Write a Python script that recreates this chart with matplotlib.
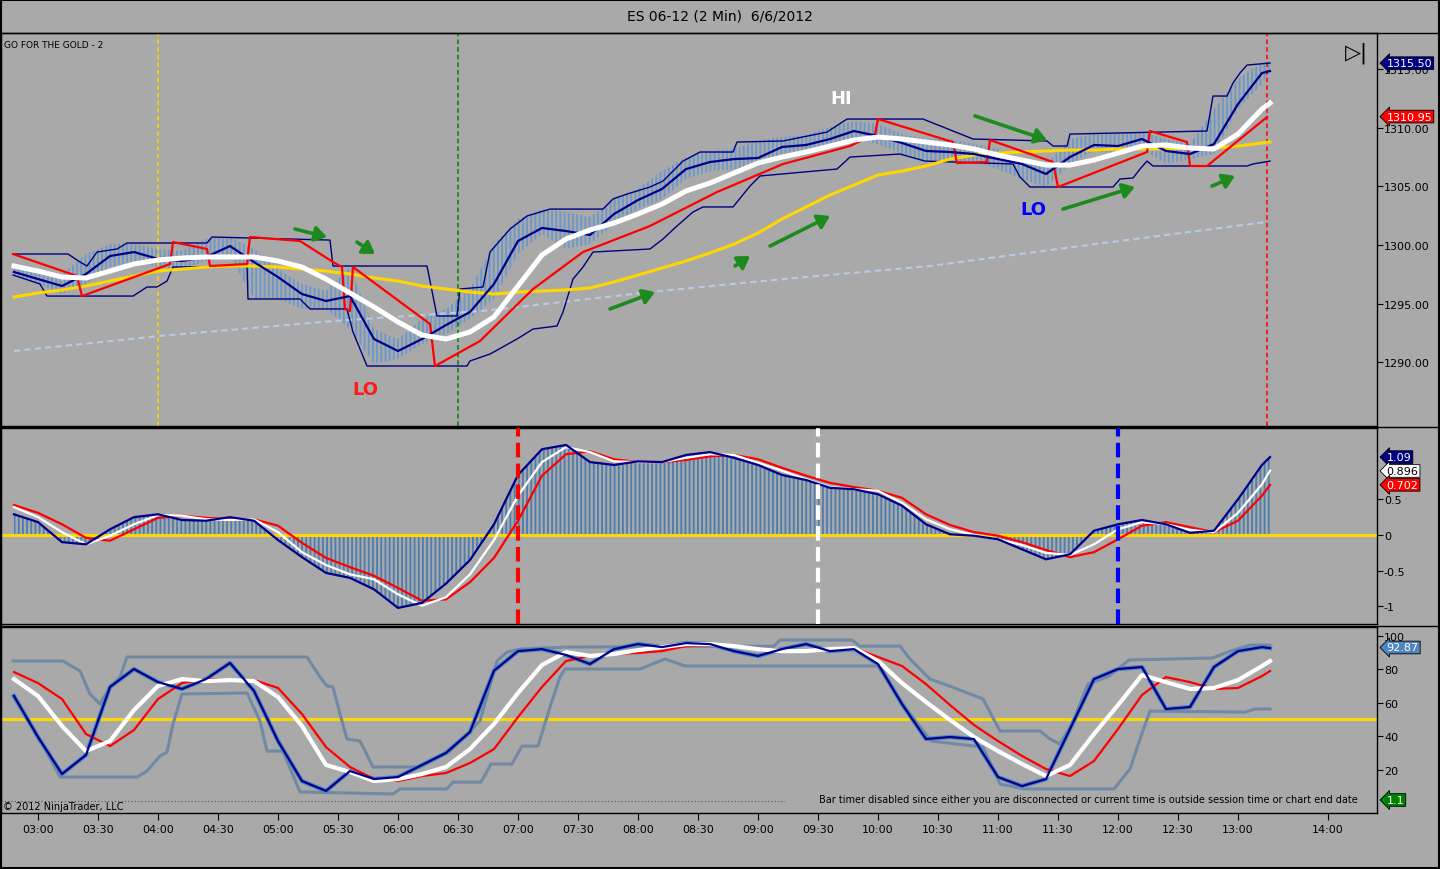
import numpy as np
import matplotlib.pyplot as plt
from matplotlib.lines import Line2D

W, H = 1440, 870
BG = '#a9a9a9'
plt.rcParams['hatch.linewidth'] = 1.3

# bar times in minutes after midnight (sampled every 12 min, last bar 13:16)
t = list(range(168, 793, 12)) + [796]

# ---- price panel ----
bar_hi = [1298.13, 1297.96, 1297.54, 1299.24, 1300.09, 1300.09, 1299.67, 1299.5, 1300.52, 1300.69,
          1299.67, 1297.96, 1296.69, 1296.09, 1298.13, 1292.85, 1292.0, 1293.71, 1294.56, 1296.26,
          1300.09, 1302.22, 1303.07, 1302.82, 1302.39, 1303.93, 1304.78, 1306.31, 1307.5, 1308.02,
          1308.19, 1308.87, 1309.21, 1309.38, 1310.06, 1310.57, 1310.32, 1309.46, 1309.04, 1309.04,
          1308.61, 1308.19, 1307.33, 1306.91, 1309.04, 1309.46, 1309.46, 1309.63, 1309.04, 1308.61,
          1311.59, 1314.15, 1315.6, 1315.68]
bar_lo = [1297.37, 1296.77, 1295.83, 1296.69, 1298.13, 1298.65, 1298.13, 1297.96, 1298.65, 1298.99,
          1295.41, 1295.41, 1294.56, 1294.56, 1292.85, 1289.87, 1290.3, 1291.58, 1292.43, 1293.71,
          1295.41, 1299.24, 1300.95, 1299.67, 1300.09, 1301.8, 1303.07, 1303.93, 1305.63, 1306.31,
          1306.48, 1306.65, 1307.76, 1308.19, 1308.19, 1309.04, 1308.61, 1307.76, 1307.16, 1307.16,
          1307.08, 1306.48, 1305.63, 1304.95, 1306.91, 1308.02, 1307.76, 1308.19, 1306.91, 1307.33,
          1307.76, 1311.59, 1313.72, 1314.83]
fast_ma = [1297.71, 1297.11, 1296.52, 1297.54, 1299.07, 1299.41, 1298.82, 1298.65, 1298.99, 1299.92,
           1298.56, 1297.28, 1295.83, 1295.24, 1295.66, 1292.0, 1290.98, 1292.0, 1293.19, 1294.3,
           1296.69, 1300.35, 1301.46, 1301.2, 1300.86, 1302.65, 1303.84, 1304.78, 1306.48, 1307.08,
           1307.33, 1307.42, 1308.36, 1308.53, 1309.04, 1309.72, 1309.29, 1308.7, 1308.02, 1307.93,
           1307.76, 1307.33, 1306.91, 1306.06, 1307.5, 1308.53, 1308.44, 1309.04, 1308.02, 1307.76,
           1308.61, 1312.02, 1314.66, 1314.83]
mid_ma = [1298.22, 1297.79, 1297.28, 1297.2, 1297.79, 1298.39, 1298.73, 1298.9, 1298.99, 1298.99,
          1298.99, 1298.65, 1298.13, 1297.11, 1295.92, 1294.73, 1293.45, 1292.34, 1292.0, 1292.6,
          1293.88, 1296.52, 1299.16, 1300.52, 1301.29, 1301.88, 1302.65, 1303.5, 1304.61, 1305.29,
          1306.14, 1306.99, 1307.5, 1307.93, 1308.44, 1308.95, 1309.21, 1309.04, 1308.78, 1308.53,
          1308.19, 1307.67, 1307.25, 1306.82, 1306.82, 1307.25, 1307.84, 1308.44, 1308.53, 1308.27,
          1308.19, 1309.46, 1311.59, 1312.1]
slow_ma = [1295.58, 1295.92, 1296.18, 1296.52, 1296.94, 1297.37, 1297.79, 1297.96, 1298.13, 1298.22,
           1298.22, 1298.13, 1297.96, 1297.79, 1297.54, 1297.2, 1296.94, 1296.52, 1296.26, 1296.0,
           1295.83, 1296.0, 1296.09, 1296.18, 1296.35, 1296.86, 1297.45, 1298.05, 1298.65, 1299.33,
           1300.09, 1301.03, 1302.22, 1303.25, 1304.27, 1305.12, 1305.97, 1306.31, 1306.74, 1307.33,
           1307.67, 1307.84, 1307.93, 1308.02, 1308.1, 1308.1, 1308.19, 1308.19, 1308.19, 1308.27,
           1308.27, 1308.44, 1308.7, 1308.78]

# trailing stop (red), vertices
stop_t = [167.5, 199.5, 202, 246, 247.5, 264.5, 266, 284.5, 286, 311, 327.5, 332, 333.5, 336, 337.5,
          376, 378.5, 401, 427.5, 452.5, 486, 519.5, 552.5, 586, 598.5, 600, 637.5, 639.5, 654.5,
          656, 687.5, 690, 734.5, 736, 754.5, 756, 764.5, 794.5]
stop_p = [1299.24, 1297.37, 1295.66, 1298.39, 1300.26, 1299.67, 1298.22, 1298.39, 1300.69, 1300.35,
          1298.56, 1298.13, 1294.56, 1294.39, 1298.13, 1293.28, 1289.7, 1291.83, 1296.26, 1299.41,
          1301.63, 1304.52, 1306.91, 1308.44, 1309.46, 1310.74, 1308.78, 1306.99, 1307.08, 1308.95,
          1307.08, 1304.95, 1307.93, 1309.72, 1308.78, 1306.74, 1306.74, 1310.91]

# channel (navy), vertices
up_t = [167.5, 195, 201, 204.5, 209.5, 219.5, 224.5, 264.5, 267, 326, 327.5, 374.5, 379.5, 389.5, 391,
        402.5, 406, 416, 424.5, 436, 462.5, 467.5, 474.5, 486, 492.5, 502.5, 511, 527.5, 529.5, 552.5,
        574.5, 584.5, 622.5, 647.5, 684.5, 687.5, 694.5, 696, 764.5, 767.5, 774.5, 777.5, 781, 784.5, 796]
up_p = [1299.24, 1299.24, 1298.56, 1298.22, 1299.41, 1299.67, 1300.18, 1300.18, 1300.69, 1300.43,
        1298.22, 1298.22, 1293.96, 1293.96, 1296.26, 1296.43, 1299.41, 1301.37, 1302.48, 1303.07,
        1303.07, 1303.93, 1304.35, 1304.95, 1305.46, 1307.16, 1307.93, 1307.93, 1308.78, 1308.87,
        1309.63, 1310.74, 1310.74, 1309.04, 1308.87, 1308.44, 1308.44, 1309.46, 1309.72, 1312.7,
        1312.7, 1313.81, 1314.66, 1315.34, 1315.51]
dn_t = [167.5, 181, 184.5, 227.5, 234.5, 239.5, 244.5, 247.5, 284.5, 285, 311, 316, 334.5, 337.5, 344.5,
        394.5, 396, 406, 419.5, 427.5, 439.5, 442.5, 447.5, 452.5, 457.5, 486, 492.5, 499.5, 507.5,
        512.5, 527.5, 536, 541, 579.5, 586, 611, 623.5, 667.5, 671, 676, 717.5, 721, 727.5, 731,
        734.5, 737.5, 784.5, 787.5, 796]
dn_p = [1297.45, 1296.69, 1295.66, 1295.66, 1296.43, 1296.43, 1296.94, 1298.13, 1298.22, 1295.41,
        1295.41, 1294.56, 1294.56, 1292.6, 1289.7, 1289.7, 1290.13, 1290.72, 1292.0, 1292.85,
        1293.11, 1294.3, 1297.11, 1298.13, 1299.41, 1299.67, 1300.52, 1301.63, 1302.82, 1303.25,
        1303.25, 1305.03, 1305.89, 1306.48, 1307.5, 1307.76, 1307.16, 1306.91, 1305.8, 1304.95,
        1304.95, 1305.63, 1305.72, 1306.48, 1307.16, 1306.74, 1306.74, 1306.91, 1307.16]

# long average (dashed), vertices
long_t = [168, 241, 327.5, 402.5, 486, 552.5, 626, 701, 794.5]
long_p = [1290.98, 1292.26, 1293.53, 1294.39, 1296.0, 1297.11, 1298.22, 1299.92, 1301.97]

# green arrows (t0, p0, t1, p1)
arrows = [(308.5, 1301.37, 324.5, 1300.69), (339.5, 1300.26, 348.5, 1299.24),
          (466, 1294.56, 488.5, 1296.0), (528.5, 1298.22, 536, 1299.07),
          (546, 1299.92, 576, 1302.48), (648.5, 1311.0, 684.5, 1308.95),
          (692.5, 1303.07, 728.5, 1304.95), (767, 1305.03, 778.5, 1305.89)]

# ---- MACD panel ----
macd = [0.29, 0.18, -0.10, -0.13, 0.08, 0.25, 0.29, 0.21, 0.20, 0.25,
        0.20, -0.07, -0.31, -0.53, -0.60, -0.76, -1.02, -0.95, -0.68, -0.35,
        0.15, 0.84, 1.20, 1.26, 1.02, 0.98, 1.03, 1.02, 1.12, 1.16,
        1.08, 0.98, 0.84, 0.77, 0.66, 0.64, 0.57, 0.41, 0.15, 0.01,
        -0.01, -0.06, -0.20, -0.34, -0.27, 0.06, 0.15, 0.21, 0.15, 0.03,
        0.06, 0.50, 0.98, 1.09]
macd_sig = [0.39, 0.25, 0.04, -0.13, -0.01, 0.15, 0.28, 0.27, 0.22, 0.21,
            0.22, 0.04, -0.24, -0.42, -0.55, -0.62, -0.83, -0.99, -0.87, -0.55,
            -0.07, 0.55, 1.02, 1.23, 1.16, 1.03, 1.02, 1.02, 1.08, 1.13,
            1.12, 1.01, 0.90, 0.78, 0.67, 0.64, 0.62, 0.45, 0.22, 0.08,
            0.0, -0.06, -0.14, -0.25, -0.28, -0.13, 0.08, 0.18, 0.15, 0.07,
            0.04, 0.31, 0.71, 0.90]
macd_avg = [0.42, 0.31, 0.15, -0.04, -0.08, 0.08, 0.24, 0.27, 0.24, 0.22,
            0.22, 0.13, -0.11, -0.32, -0.45, -0.57, -0.74, -0.92, -0.90, -0.66,
            -0.32, 0.20, 0.83, 1.13, 1.17, 1.06, 1.02, 1.02, 1.05, 1.10,
            1.12, 1.06, 0.94, 0.83, 0.73, 0.67, 0.62, 0.52, 0.29, 0.14,
            0.04, -0.01, -0.10, -0.21, -0.31, -0.24, -0.06, 0.13, 0.18, 0.11,
            0.04, 0.20, 0.55, 0.70]

# ---- stochastic panel ----
stoch_k = [63.9, 39.4, 17.3, 28.7, 69.3, 80.0, 72.2, 68.1, 74.0, 83.6,
           66.9, 37.0, 13.1, 7.2, 19.1, 14.3, 15.5, 22.7, 29.9, 42.4,
           79.0, 90.7, 91.9, 88.4, 83.0, 91.9, 94.9, 93.1, 95.5, 94.9,
           90.7, 87.8, 91.9, 94.9, 90.7, 91.9, 83.0, 59.1, 38.2, 39.4,
           38.2, 15.5, 10.1, 14.3, 44.2, 74.0, 80.0, 81.2, 56.1, 57.3,
           81.2, 90.7, 93.1, 92.5]
stoch_d = [74.0, 63.9, 46.0, 31.0, 37.0, 55.5, 69.9, 74.0, 72.8, 73.4,
           72.8, 63.3, 46.0, 22.7, 18.5, 13.1, 14.3, 17.3, 21.5, 32.2,
           47.2, 65.7, 82.4, 90.1, 87.8, 89.0, 91.3, 93.1, 94.9, 94.9,
           93.7, 91.9, 90.7, 90.7, 91.9, 92.5, 84.8, 71.6, 60.3, 49.6,
           39.4, 31.0, 23.3, 16.1, 22.7, 41.2, 58.5, 76.4, 72.2, 68.1,
           68.7, 73.4, 81.8, 84.8]
stoch_s = [78.2, 71.6, 62.1, 41.2, 34.0, 43.6, 62.1, 71.6, 74.0, 73.4,
           73.4, 68.7, 53.1, 33.4, 21.5, 14.3, 13.1, 16.1, 17.9, 23.9,
           32.2, 51.3, 69.3, 84.8, 87.8, 89.0, 89.6, 90.7, 93.7, 94.3,
           93.7, 92.5, 91.3, 90.7, 91.9, 92.5, 87.2, 81.8, 71.0, 58.5,
           46.6, 37.0, 28.1, 20.3, 16.1, 25.1, 44.2, 64.5, 75.2, 72.2,
           68.1, 68.7, 75.8, 78.8]
hh_t = [167.5, 192.5, 201, 206, 211, 216, 221, 224.5, 314.5, 321, 324.5, 327.5, 331, 334.5, 341,
        347.5, 371, 386, 394.5, 401, 409.5, 414.5, 421, 443.5, 548, 551, 587, 591, 611, 616, 626,
        637, 652.5, 661, 681, 686, 691, 697, 705, 715.5, 725.5, 767.5, 776, 786, 796]
hh_v = [84.8, 84.8, 78.8, 65.1, 59.1, 69.3, 75.2, 87.2, 87.2, 75.2, 69.9, 69.3, 53.1, 38.2, 37.0,
        21.5, 21.5, 31.0, 41.2, 49.0, 84.8, 90.1, 91.9, 93.1, 93.7, 97.3, 97.3, 93.7, 93.7, 86.0,
        74.0, 69.3, 62.1, 43.0, 43.0, 38.2, 35.2, 47.2, 71.0, 75.8, 85.4, 86.6, 90.7, 94.3, 94.3]
ll_t = [167.5, 176, 183.5, 191, 229.5, 234.5, 241, 244.5, 247.5, 252, 284.5, 291, 294.5, 302.5, 311,
        357.5, 361, 384.5, 387.5, 401.5, 406.5, 417, 422, 430, 436, 441, 443.5, 481, 493.5, 503.5,
        600, 613.5, 626.5, 652.5, 661, 668, 673.5, 718, 726, 731, 736, 783.5, 788.5, 796]
ll_v = [63.9, 47.2, 32.2, 15.5, 15.5, 19.1, 28.1, 30.4, 47.2, 65.1, 65.7, 49.0, 31.0, 31.0, 6.6,
        5.4, 8.4, 8.4, 12.5, 12.5, 23.3, 23.3, 34.0, 34.0, 57.3, 75.2, 80.0, 80.0, 86.0, 81.8,
        81.8, 57.3, 37.0, 33.4, 11.3, 9.6, 8.4, 8.4, 20.3, 38.2, 54.9, 54.3, 56.1, 56.1]

tick_t = list(range(180, 781, 30)) + [825]
tick_lab = ['%02d:%02d' % (m // 60, m % 60) for m in range(180, 781, 30)] + ['14:00']


def box(x0, y0, x1, y1):
    return [x0 / W, 1 - y1 / H, (x1 - x0) / W, (y1 - y0) / H]


def tag(ax, y, s, fc, tc='white'):
    ax.annotate(s, xy=(1, y), xycoords=ax.get_yaxis_transform(), xytext=(7, 0),
                textcoords='offset points', ha='left', va='center', fontsize=8, color=tc,
                bbox=dict(boxstyle='larrow,pad=0.12', fc=fc, ec='black', lw=0.6),
                annotation_clip=False, zorder=20)


fig = plt.figure(figsize=(W / 100, H / 100), dpi=100, facecolor=BG)
ax1 = fig.add_axes(box(1, 34, 1377, 427))
ax2 = fig.add_axes(box(1, 429, 1377, 625), sharex=ax1)
ax3 = fig.add_axes(box(1, 628, 1377, 814), sharex=ax1)

for ax in (ax1, ax2, ax3):
    ax.set_facecolor(BG)
    ax.yaxis.tick_right()
    ax.tick_params(axis='y', direction='out', length=4, width=0.8, labelsize=8, pad=1)
    for s in ax.spines.values():
        s.set_linewidth(1)
ax1.tick_params(axis='x', bottom=False, labelbottom=False)
ax2.tick_params(axis='x', bottom=False, labelbottom=False)
ax3.tick_params(axis='x', direction='out', length=5, labelsize=8, pad=3)
ax1.set_xlim(161.5, 849.5)
ax3.set_xticks(tick_t)
ax3.set_xticklabels(tick_lab)

# price
ax1.set_ylim(1284.59, 1318.07)
ax1.set_yticks([1290, 1295, 1300, 1305, 1310, 1315])
ax1.set_yticklabels(['%.2f' % v for v in [1290, 1295, 1300, 1305, 1310, 1315]])
ax1.fill_between(t, bar_lo, bar_hi, facecolor='none', edgecolor='#6a98cc', hatch='||||', lw=0, zorder=1)
ax1.plot(long_t, long_p, color='#b8cce4', lw=1.5, dashes=(3, 2), zorder=2)
ax1.plot(up_t, up_p, color='#000080', lw=1, zorder=3)
ax1.plot(dn_t, dn_p, color='#000080', lw=1, zorder=3)
ax1.plot(t, slow_ma, color='#ffd700', lw=2.2, zorder=4)
ax1.plot(stop_t, stop_p, color='#ff0000', lw=1.6, zorder=5)
ax1.plot(t, fast_ma, color='#00008b', lw=1.6, zorder=6)
ax1.plot(t, mid_ma, color='white', lw=3.6, zorder=7)
ax1.axvline(240, color='#ffd700', lw=1.1, dashes=(3, 2))
ax1.axvline(390, color='#008000', lw=1.1, dashes=(3, 2))
ax1.axvline(794.5, color='#ff0000', lw=1.1, dashes=(3, 2))
for t0, p0, t1, p1 in arrows:
    ax1.annotate('', xy=(t1, p1), xytext=(t0, p0),
                 arrowprops=dict(arrowstyle='-|>,head_length=0.7,head_width=0.45',
                                 color='#1c8a1c', lw=2.6, shrinkA=0, shrinkB=0), zorder=8)
ax1.text(581.5, 1312.5, 'HI', color='white', fontsize=13, fontweight='bold', ha='center', va='center')
ax1.text(343.5, 1287.7, 'LO', color='#ff1a1a', fontsize=13, fontweight='bold', ha='center', va='center')
ax1.text(677.5, 1303.07, 'LO', color='#0000ff', fontsize=13, fontweight='bold', ha='center', va='center')
ax1.text(0.002, 0.97, 'GO FOR THE GOLD - 2', transform=ax1.transAxes, fontsize=6.5, va='center')
ax1.text(0.985, 0.95, '\u25b7|', transform=ax1.transAxes, fontsize=15, ha='center', va='center')
tag(ax1, 1315.50, '1315.50', '#000080')
tag(ax1, 1310.95, '1310.95', '#ff0000')

# MACD
ax2.set_ylim(-1.245, 1.497)
ax2.set_yticks([-1, -0.5, 0, 0.5])
ax2.set_yticklabels(['-1', '-0.5', '0', '0.5'])
ax2.fill_between(t, 0, macd, facecolor='none', edgecolor='#4a7db0', hatch='||||', lw=0, zorder=1)
ax2.axhline(0, color='#ffd700', lw=2.2, zorder=2)
ax2.plot(t, macd_avg, color='#ff0000', lw=1.6, zorder=3)
ax2.plot(t, macd_sig, color='white', lw=1.6, zorder=4)
ax2.plot(t, macd, color='#00008b', lw=1.6, zorder=5)
ax2.axvline(420, color='#ff0000', lw=3, dashes=(3.5, 1.5), zorder=6)
ax2.axvline(570, color='white', lw=3, dashes=(3.5, 1.5), zorder=6)
ax2.axvline(720, color='#0000ff', lw=3, dashes=(3.5, 1.5), zorder=6)
tag(ax2, 1.09, '1.09', '#000080')
tag(ax2, 0.896, '0.896', 'white', 'black')
tag(ax2, 0.702, '0.702', '#ff0000')

# stochastics
ax3.set_ylim(-5.97, 105.1)
ax3.set_yticks([20, 40, 60, 80, 100])
ax3.axhline(50, color='#ffd700', lw=2.2, zorder=1)
ax3.axhline(1.2, xmax=0.57, color='#2e6b2e', lw=0.8, ls=(0, (1, 2)), zorder=1)
ax3.plot(hh_t, hh_v, color='#7189a3', lw=2.2, zorder=2)
ax3.plot(ll_t, ll_v, color='#7189a3', lw=2.2, zorder=2)
ax3.plot(t, stoch_k, color='#4f86c0', lw=3.2, zorder=3)
ax3.plot(t, stoch_s, color='#ff0000', lw=1.6, zorder=4)
ax3.plot(t, stoch_d, color='white', lw=3, zorder=5)
ax3.plot(t, stoch_k, color='#00008b', lw=1.6, zorder=6)
tag(ax3, 92.87, '92.87', '#4f86c0')
tag(ax3, 1.8, '1.1', '#008000')

# frame, separators and texts
for y in (34, 428, 626.5):
    fig.add_artist(Line2D([0, 1], [1 - y / H, 1 - y / H], transform=fig.transFigure, color='black', lw=1))
fig.add_artist(plt.Rectangle((0.0005, 0.001), 0.999, 0.998, transform=fig.transFigure,
                             fill=False, ec='black', lw=1.5))
fig.text(719.5 / W, 1 - 16 / H, 'ES 06-12 (2 Min)  6/6/2012', ha='center', va='center', fontsize=10)
fig.text(3 / W, 1 - 807 / H, '\u00a9 2012 NinjaTrader, LLC', ha='left', va='center', fontsize=7)
fig.text(1358 / W, 1 - 800 / H,
         'Bar timer disabled since either you are disconnected or current time is outside session time or chart end date',
         ha='right', va='center', fontsize=7)

fig.savefig('out.png', dpi=100, facecolor=BG)
